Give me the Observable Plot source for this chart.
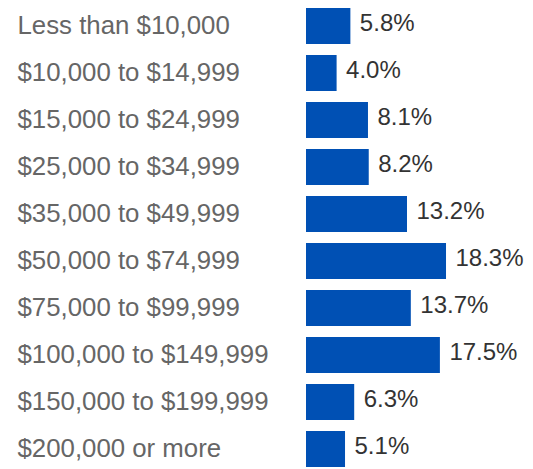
<!DOCTYPE html>
<html>
<head>
<meta charset="utf-8">
<script src="https://cdn.jsdelivr.net/npm/d3@7"></script>
<script src="https://cdn.jsdelivr.net/npm/@observablehq/plot@0.6"></script>
<style>
  html, body { margin: 0; padding: 0; background: #fff; }
  #chart { width: 533px; height: 469px; overflow: hidden; }
  svg { font-family: "Liberation Sans", Arial, sans-serif; }
</style>
</head>
<body>
<div id="chart"></div>
<script>
const categories = [
  "Less than $10,000",
  "$10,000 to $14,999",
  "$15,000 to $24,999",
  "$25,000 to $34,999",
  "$35,000 to $49,999",
  "$50,000 to $74,999",
  "$75,000 to $99,999",
  "$100,000 to $149,999",
  "$150,000 to $199,999",
  "$200,000 or more"
];
const values = [5.8, 4.0, 8.1, 8.2, 13.2, 18.3, 13.7, 17.5, 6.3, 5.1];
const valueLabels = ["5.8%", "4.0%", "8.1%", "8.2%", "13.2%", "18.3%", "13.7%", "17.5%", "6.3%", "5.1%"];

const data = categories.map((c, i) => ({category: c, value: values[i], label: valueLabels[i]}));

const chart = Plot.plot({
  width: 533,
  height: 469,
  marginLeft: 306,
  marginRight: 0,
  marginTop: 5,
  marginBottom: 0,
  style: {background: "#fff", fontFamily: "Liberation Sans, Arial, sans-serif"},
  x: {domain: [0, 29.67], axis: null},
  y: {domain: categories, paddingInner: 0.2433, paddingOuter: 0, axis: null},
  marks: [
    Plot.axisY({
      tickSize: 0,
      textAnchor: "start",
      dx: -280,
      dy: -1,
      fontSize: 25.8,
      fill: "#666666",
      label: null
    }),
    Plot.barX(data, {x: "value", y: "category", fill: "#0050b4"}),
    Plot.text(data, {
      x: "value",
      y: "category",
      text: "label",
      textAnchor: "start",
      dx: 9,
      dy: -3.5,
      fontSize: 24,
      fill: "#333333"
    })
  ]
});
document.getElementById("chart").appendChild(chart);
</script>
</body>
</html>
